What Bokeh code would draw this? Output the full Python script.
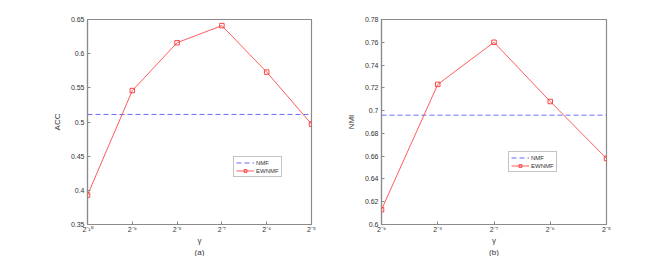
from bokeh.plotting import figure
from bokeh.layouts import row
from bokeh.models import FixedTicker, Title, Legend, LegendItem
from bokeh.embed import file_html
from bokeh.resources import INLINE

# ---- data ----
gamma_a = [-10, -9, -8, -7, -6, -5]
acc_ewnmf = [0.393, 0.546, 0.616, 0.641, 0.573, 0.497]
acc_nmf = 0.511
acc_ticks = [0.35, 0.4, 0.45, 0.5, 0.55, 0.6, 0.65]

gamma_b = [-9, -8, -7, -6, -5]
nmi_ewnmf = [0.613, 0.723, 0.760, 0.708, 0.658]
nmi_nmf = 0.696
nmi_ticks = [0.6, 0.62, 0.64, 0.66, 0.68, 0.7, 0.72, 0.74, 0.76, 0.78]

SUP = str.maketrans("-0123456789", "⁻⁰¹²³⁴⁵⁶⁷⁸⁹")
FONT = "Liberation Sans"
AXIS_C = "#8a8a8a"
TEXT_C = "#333333"


def make(gx, ys, nmf, yticks, ylabel, sub, w, lb, rb, legend_xy):
    p = figure(width=w, height=256, min_border_left=lb, min_border_right=rb,
               min_border_top=19, min_border_bottom=32,
               x_range=(gx[0], gx[-1]), y_range=(yticks[0], yticks[-1]),
               output_backend="svg", toolbar_location=None)
    p.grid.visible = False
    p.outline_line_color = AXIS_C
    p.outline_line_width = 1.2
    p.background_fill_color = "white"
    p.border_fill_color = "white"

    xs = [gx[0], gx[-1]]
    r_nmf = p.line(xs, [nmf, nmf], line_color="#5c5cff", line_dash="5 3", line_width=1, line_alpha=0.9)
    r_l = p.line(gx, ys, line_color="#ff3333", line_width=1, line_alpha=0.8)
    r_m = p.scatter(gx, ys, marker="square", size=4.5, fill_color=None, line_color="#ff3333", line_alpha=0.9)

    xa = p.xaxis[0]
    xa.ticker = FixedTicker(ticks=gx)
    xa.major_label_overrides = {g: "2" + str(g).translate(SUP) for g in gx}
    xa.axis_label = "γ"
    ya = p.yaxis[0]
    ya.ticker = FixedTicker(ticks=yticks)
    ya.major_label_overrides = {t: f"{t:g}" for t in yticks}
    ya.axis_label = ylabel
    for a in (xa, ya):
        a.axis_line_color = AXIS_C
        a.axis_line_width = 1.2
        a.major_tick_line_color = AXIS_C
        a.major_tick_in = 3
        a.major_tick_out = 0
        a.minor_tick_line_color = None
        a.major_label_text_font = FONT
        a.major_label_text_font_size = "7px"
        a.major_label_text_color = TEXT_C
        a.axis_label_text_font = FONT
        a.axis_label_text_font_size = "8px"
        a.axis_label_text_font_style = "normal"
        a.axis_label_text_color = TEXT_C
    xa.major_label_standoff = 1
    ya.major_label_standoff = 3
    xa.axis_label_standoff = 0
    ya.axis_label_standoff = 6

    t = Title(text=sub, align="center", text_font=FONT, text_font_size="8px",
              text_font_style="normal", text_color=TEXT_C, standoff=-4, offset=0)
    p.add_layout(t, "below")

    leg = Legend(items=[LegendItem(label="NMF", renderers=[r_nmf]),
                        LegendItem(label="EWNMF", renderers=[r_l, r_m])],
                 location=legend_xy, label_text_font=FONT, label_text_font_size="6px",
                 label_text_color=TEXT_C, glyph_width=18, glyph_height=7, label_height=7,
                 spacing=1, padding=2, margin=0, label_standoff=2,
                 border_line_color="#888888", border_line_width=1)
    p.add_layout(leg, "center")
    return p


p1 = make(gamma_a, acc_ewnmf, acc_nmf, acc_ticks, "ACC", "(a)", 330, 87, 19, (146, 47))
p2 = make(gamma_b, nmi_ewnmf, nmi_nmf, nmi_ticks, "NMI", "(b)", 339, 51, 63, (127, 52))

layout = row(p1, p2, spacing=0)
open("out.html", "w").write(file_html(layout, INLINE))
